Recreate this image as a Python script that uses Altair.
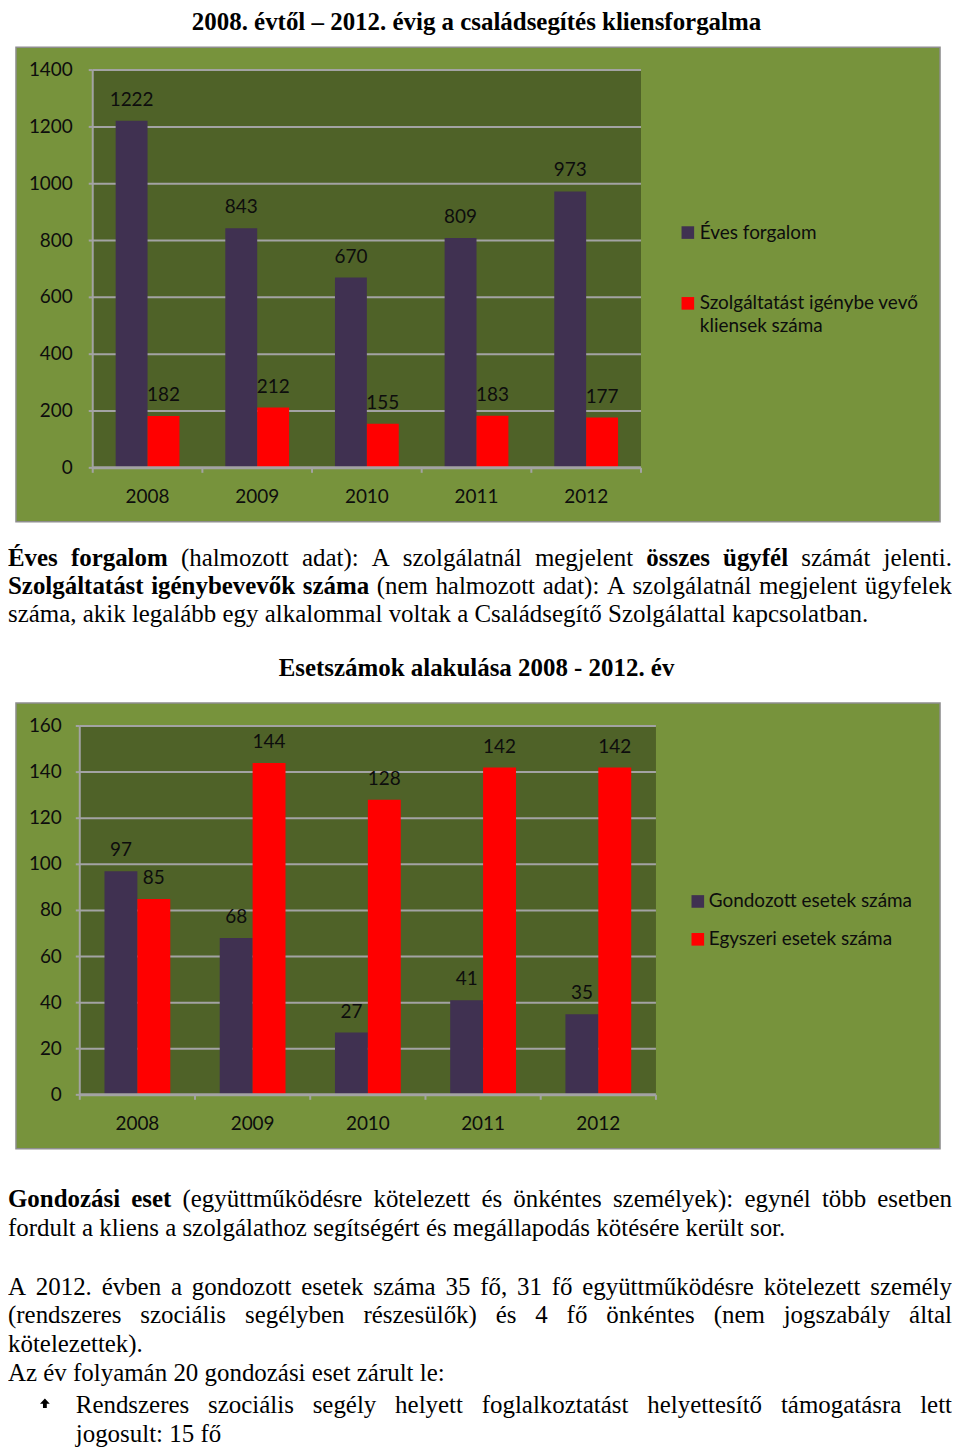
import altair as alt
import pandas as pd

# ---------------- data ----------------
years = ["2008", "2009", "2010", "2011", "2012"]

c1_series = ["Éves forgalom", "Szolgáltatást igénybe vevő kliensek száma"]
c1_eves = [1222, 843, 670, 809, 973]
c1_szolg = [182, 212, 155, 183, 177]
c1_ticks = [0, 200, 400, 600, 800, 1000, 1200, 1400]

c2_series = ["Gondozott esetek száma", "Egyszeri esetek száma"]
c2_gond = [97, 68, 27, 41, 35]
c2_egy = [85, 144, 128, 142, 142]
c2_ticks = [0, 20, 40, 60, 80, 100, 120, 140, 160]

title1 = "2008. évtől – 2012. évig a családsegítés kliensforgalma"
title2 = "Esetszámok alakulása 2008 - 2012. év"

c1_legend_lines = [["Éves forgalom"], ["Szolgáltatást  igénybe vevő", "kliensek száma"]]
c2_legend_lines = [["Gondozott esetek száma"], ["Egyszeri esetek száma"]]

para1 = [
    [("Éves forgalom", True), (" (halmozott adat): A szolgálatnál megjelent ", False),
     ("összes ügyfél", True), (" számát jelenti.", False)],
    [("Szolgáltatást igénybevevők száma", True),
     (" (nem halmozott adat): A szolgálatnál megjelent ügyfelek", False)],
    [("száma, akik legalább egy alkalommal voltak a Családsegítő Szolgálattal kapcsolatban.", False)],
]
para2 = [
    [("Gondozási eset", True),
     (" (együttműködésre kötelezett és önkéntes személyek): egynél több esetben", False)],
    [("fordult a kliens a szolgálathoz segítségért és megállapodás kötésére került sor.", False)],
    [("A 2012. évben a gondozott esetek száma 35 fő, 31 fő együttműködésre kötelezett személy", False)],
    [("(rendszeres szociális segélyben részesülők) és 4 fő önkéntes (nem jogszabály által", False)],
    [("kötelezettek).", False)],
    [("Az év folyamán 20 gondozási eset zárult le:", False)],
    [("Rendszeres szociális segély helyett foglalkoztatást helyettesítő támogatásra lett", False)],
    [("jogosult: 15 fő", False)],
]

# ---------------- style ----------------
OUTER = "#77933C"
INNER = "#4F6228"
PURPLE = "#403151"
RED = "#FF0000"
GRID = "#A3A3A3"
BORDER = "#8E8E8E"
TXT = "#0d0d0d"
SANS = "Lato"
SERIF = "Liberation Serif"
FS = 25
CFS = 19

# Times / Liberation Serif advance widths (1/1000 em)
REG = {' ': 250, '(': 333, ')': 333, ',': 250, '.': 250, ':': 278, '-': 333, '–': 500}
BOLD = {' ': 250, '(': 333, ')': 333, ',': 250, '.': 250, ':': 333, '-': 333, '–': 500}
for d in "0123456789":
    REG[d] = 500
    BOLD[d] = 500
REG.update(dict(zip("abcdefghijklmnopqrstuvwxyz",
                    [444, 500, 444, 500, 444, 333, 500, 500, 278, 278, 500, 278, 778,
                     500, 500, 500, 500, 333, 389, 278, 500, 500, 722, 500, 500, 444])))
REG.update(dict(zip("ABCDEFGHIJKLMNOPQRSTUVWXYZ",
                    [722, 667, 667, 722, 611, 556, 722, 722, 333, 389, 722, 611, 889,
                     722, 722, 556, 722, 667, 556, 611, 722, 722, 944, 722, 722, 611])))
BOLD.update(dict(zip("abcdefghijklmnopqrstuvwxyz",
                     [500, 556, 444, 556, 444, 333, 500, 556, 278, 333, 556, 278, 833,
                      556, 500, 556, 556, 444, 389, 333, 556, 500, 722, 500, 500, 444])))
BOLD.update(dict(zip("ABCDEFGHIJKLMNOPQRSTUVWXYZ",
                     [722, 667, 722, 722, 667, 611, 778, 778, 389, 500, 778, 667, 944,
                      722, 778, 611, 778, 722, 556, 667, 722, 722, 1000, 722, 722, 667])))
ACC = {'á': 'a', 'é': 'e', 'í': 'i', 'ó': 'o', 'ö': 'o', 'ő': 'o', 'ú': 'u', 'ü': 'u',
       'ű': 'u', 'É': 'E', 'Á': 'A', 'Ö': 'O'}


def tw(s, bold):
    t = BOLD if bold else REG
    return sum(t.get(ACC.get(ch, ch), 500) for ch in s) * FS / 1000.0


def layout(lines, specs):
    rows = []
    for segs, (y, x0, x1) in zip(lines, specs):
        words = []
        for text, bold in segs:
            for w in text.split(" "):
                if w:
                    words.append((w, bold))
        widths = [tw(w, b) for w, b in words]
        if x1 is not None and len(words) > 1:
            gap = (x1 - x0 - sum(widths)) / (len(words) - 1)
        else:
            gap = 0.25 * FS
        x = x0
        for (w, b), wd in zip(words, widths):
            rows.append({"t": w, "x": x, "y": y, "b": b})
            x += wd + gap
    return rows


def text_layers(rows):
    df = pd.DataFrame(rows)
    base = alt.Chart(df).encode(
        x=alt.X("x:Q", scale=None, axis=None),
        y=alt.Y("y:Q", scale=None, axis=None),
        text="t:N",
    )
    reg = base.transform_filter("!datum.b").mark_text(
        font=SERIF, fontSize=FS, align="left", baseline="middle", color="black")
    bld = base.transform_filter("datum.b").mark_text(
        font=SERIF, fontSize=FS, fontWeight="bold", align="left", baseline="middle", color="black")
    return [reg, bld]


def title_layer(text, x, y, baseline="middle"):
    return alt.Chart(pd.DataFrame({"t": [text]})).mark_text(
        font=SERIF, fontSize=FS, fontWeight="bold", align="center", baseline=baseline,
        color="black").encode(x=alt.value(x), y=alt.value(y), text="t:N")


def bar_panel(series, va, vb, ticks, W, H, px0, px1, ptop, pbot, barw,
              ylab_gap, leg_sq_x, leg_txt_x, leg_ys, leg_lines):
    df = pd.DataFrame({
        "year": years * 2,
        "series": [series[0]] * 5 + [series[1]] * 5,
        "value": va + vb,
    })
    xs = alt.Scale(domain=years, range=[px0, px1], paddingInner=0, paddingOuter=0)
    ys = alt.Scale(domain=[ticks[0], ticks[-1]], range=[pbot, ptop], nice=False)
    cs = alt.Scale(domain=series, range=[PURPLE, RED])
    X = alt.X("year:N", sort=years, scale=xs, axis=None)
    Y = alt.Y("value:Q", scale=ys, axis=None)
    tick_df = pd.DataFrame({"t": ticks})
    year_df = pd.DataFrame({"year": years})
    dummy = pd.DataFrame({"k": [0]})

    bg = alt.Chart(dummy).mark_rect(color=INNER).encode(
        x=alt.value(px0), x2=alt.value(px1), y=alt.value(ptop), y2=alt.value(pbot))

    grid = alt.Chart(pd.DataFrame({"t": ticks[1:]})).mark_rule(
        color=GRID, strokeWidth=2).encode(
        y=alt.Y("t:Q", scale=ys, axis=None), x=alt.value(px0), x2=alt.value(px1))

    layers = [bg, grid]
    for i, s in enumerate(series):
        off = (i - 0.5) * barw
        sub = df[df["series"] == s]
        layers.append(alt.Chart(sub).mark_bar(size=barw, xOffset=off).encode(
            x=X, y=Y, color=alt.Color("series:N", scale=cs, legend=None)))
        layers.append(alt.Chart(sub).mark_text(
            font=SANS, fontSize=CFS, color=TXT, baseline="alphabetic", dy=-15,
            xOffset=off).encode(x=X, y=Y, text="value:Q"))

    # y axis: domain, ticks, labels
    layers.append(alt.Chart(dummy).mark_rule(color=GRID, strokeWidth=2).encode(
        x=alt.value(px0), y=alt.value(ptop), y2=alt.value(pbot)))
    layers.append(alt.Chart(tick_df).mark_rule(color=GRID, strokeWidth=2).encode(
        y=alt.Y("t:Q", scale=ys, axis=None), x=alt.value(px0 - 4), x2=alt.value(px0)))
    layers.append(alt.Chart(tick_df).mark_text(
        font=SANS, fontSize=CFS, color=TXT, align="right", baseline="middle").encode(
        y=alt.Y("t:Q", scale=ys, axis=None), x=alt.value(px0 - ylab_gap), text="t:Q"))

    # x axis: domain, boundary ticks, labels
    layers.append(alt.Chart(dummy).mark_rule(color=GRID, strokeWidth=3).encode(
        y=alt.value(pbot), x=alt.value(px0), x2=alt.value(px1)))
    layers.append(alt.Chart(year_df).mark_rule(color=GRID, strokeWidth=2).encode(
        x=alt.X("year:N", sort=years, scale=xs, axis=None, bandPosition=0),
        y=alt.value(pbot), y2=alt.value(pbot + 5)))
    layers.append(alt.Chart(dummy).mark_rule(color=GRID, strokeWidth=2).encode(
        x=alt.value(px1), y=alt.value(pbot), y2=alt.value(pbot + 5)))
    layers.append(alt.Chart(year_df).mark_text(
        font=SANS, fontSize=CFS, color=TXT, baseline="middle").encode(
        x=X, y=alt.value(pbot + 29), text="year:N"))

    # legend
    for i, (ly, lines) in enumerate(zip(leg_ys, leg_lines)):
        col = [PURPLE, RED][i]
        layers.append(alt.Chart(dummy).mark_square(size=160, opacity=1, color=col).encode(
            x=alt.value(leg_sq_x), y=alt.value(ly)))
        for j, ln in enumerate(lines):
            layers.append(alt.Chart(pd.DataFrame({"t": [ln]})).mark_text(
                font=SANS, fontSize=CFS, color=TXT, align="left", baseline="middle").encode(
                x=alt.value(leg_txt_x), y=alt.value(ly + 23 * j), text="t:N"))

    return alt.layer(*layers).properties(
        width=W, height=H, view=alt.ViewBackground(fill=OUTER, stroke=BORDER, strokeWidth=1.5))


TW = 943
RIGHT = 947

# Part A: main title
partA = alt.layer(title_layer(title1, 470, 0, baseline="top")).properties(
    width=TW, height=37, view=alt.ViewBackground(stroke=None))

# Part B: chart 1
partB = bar_panel(c1_series, c1_eves, c1_szolg, c1_ticks, 927, 476, 77, 627, 23, 422, 32,
                  20, 674, 686, [186, 257], c1_legend_lines)

# Part C: paragraph 1 and second title
rows1 = layout(para1, [(36, 0, RIGHT), (65, 0, RIGHT), (93, 0, None)])
partC = alt.layer(*text_layers(rows1), title_layer(title2, 470, 147)).properties(
    width=TW, height=182, view=alt.ViewBackground(stroke=None))

# Part D: chart 2
partD = bar_panel(c2_series, c2_gond, c2_egy, c2_ticks, 927, 447, 64, 642, 23, 393, 33,
                  18, 684, 695, [199, 237], c2_legend_lines)

# Part E: paragraph 2
rows2 = layout(para2, [(51, 0, RIGHT), (80, 0, None), (139, 0, RIGHT), (167, 0, RIGHT),
                       (196, 0, None), (225, 0, None), (257, 68, RIGHT), (286, 68, None)])
bullet = alt.Chart(pd.DataFrame({"k": [0]})).mark_point(
    shape="M0,-1L0.9,0L0.35,0L0.35,0.75L-0.35,0.75L-0.35,0L-0.9,0Z",
    filled=True, opacity=1, color="black", size=120).encode(
    x=alt.value(37), y=alt.value(256))
partE = alt.layer(*text_layers(rows2), bullet).properties(
    width=TW, height=292, view=alt.ViewBackground(stroke=None))

chart = alt.vconcat(partA, partB, partC, partD, partE, spacing=0, center=True,
                    bounds="flush").properties(padding=0).configure(background="white")

chart.save("out.html", embed_options={"renderer": "svg", "actions": False})
